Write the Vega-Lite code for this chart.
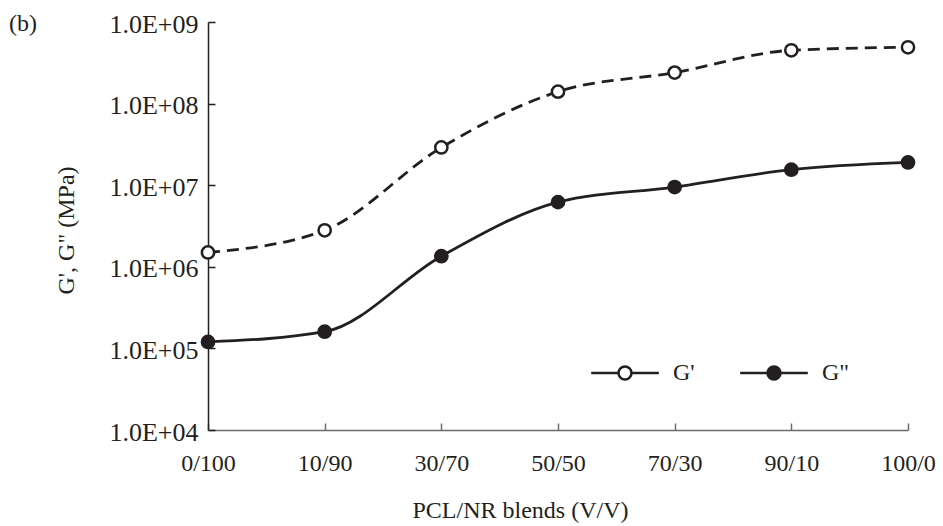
{
  "$schema": "https://vega.github.io/schema/vega-lite/v6.json",
  "width": 700,
  "height": 408,
  "autosize": "none",
  "padding": {"left": 208, "top": 22, "right": 35, "bottom": 96},
  "background": "white",
  "title": {
    "text": "(b)",
    "anchor": "start",
    "frame": "bounds",
    "orient": "top",
    "font": "Liberation Serif",
    "fontSize": 24,
    "fontWeight": "normal",
    "color": "#231f20",
    "baseline": "alphabetic",
    "dx": -45,
    "dy": 44,
    "offset": 0
  },
  "config": {
    "view": {"stroke": null},
    "axis": {
      "labelFont": "Liberation Serif",
      "titleFont": "Liberation Serif",
      "labelFontSize": 24,
      "titleFontSize": 24,
      "titleFontWeight": "normal",
      "labelColor": "#231f20",
      "titleColor": "#231f20",
      "grid": false
    }
  },
  "data": {
    "values": [
      {"blend": "0/100", "series": "G'", "value": 1500000},
      {"blend": "10/90", "series": "G'", "value": 2800000},
      {"blend": "30/70", "series": "G'", "value": 29000000},
      {"blend": "50/50", "series": "G'", "value": 140000000},
      {"blend": "70/30", "series": "G'", "value": 240000000},
      {"blend": "90/10", "series": "G'", "value": 450000000},
      {"blend": "100/0", "series": "G'", "value": 490000000},
      {"blend": "0/100", "series": "G\"", "value": 120000},
      {"blend": "10/90", "series": "G\"", "value": 160000},
      {"blend": "30/70", "series": "G\"", "value": 1350000},
      {"blend": "50/50", "series": "G\"", "value": 6200000},
      {"blend": "70/30", "series": "G\"", "value": 9500000},
      {"blend": "90/10", "series": "G\"", "value": 15500000},
      {"blend": "100/0", "series": "G\"", "value": 19000000}
    ]
  },
  "encoding": {
    "x": {
      "field": "blend",
      "type": "ordinal",
      "scale": {"type": "point", "padding": 0, "domain": ["0/100", "10/90", "30/70", "50/50", "70/30", "90/10", "100/0"]},
      "axis": {
        "title": "PCL/NR blends (V/V)",
        "labelAngle": 0,
        "tickSize": -7,
        "labelPadding": 28,
        "domainColor": "#6d6d6d",
        "tickColor": "#6d6d6d",
        "domainWidth": 1.5,
        "tickWidth": 1.5,
        "titleX": 312,
        "titleY": 87,
        "titleAlign": "center",
        "titleBaseline": "alphabetic"
      }
    },
    "y": {
      "field": "value",
      "type": "quantitative",
      "scale": {"type": "log", "domain": [10000, 1000000000], "nice": false},
      "axis": {
        "title": "G', G\" (MPa)",
        "values": [10000, 100000, 1000000, 10000000, 100000000, 1000000000],
        "labelExpr": "'1.0E+0' + format(log(datum.value)/LN10, '.0f')",
        "labelFontSize": 26,
        "tickSize": -7,
        "labelPadding": 17,
        "labelOffset": 2,
        "domainColor": "#231f20",
        "tickColor": "#231f20",
        "domainWidth": 1.5,
        "tickWidth": 1.5,
        "titleX": -135,
        "titleY": 208,
        "titleAlign": "center",
        "titleBaseline": "alphabetic"
      }
    }
  },
  "layer": [
    {
      "transform": [{"filter": "datum.series === \"G'\""}],
      "mark": {"type": "line", "interpolate": "monotone", "color": "#231f20", "strokeWidth": 2.8, "strokeDash": [12, 7]},
      "encoding": {}
    },
    {
      "transform": [{"filter": "datum.series === 'G\"'"}],
      "mark": {"type": "line", "interpolate": "monotone", "color": "#231f20", "strokeWidth": 2.8},
      "encoding": {}
    },
    {
      "mark": {"type": "point", "filled": true, "stroke": "#231f20", "strokeWidth": 2.5, "size": 150, "opacity": 1},
      "encoding": {
        "fill": {
          "field": "series",
          "type": "nominal",
          "scale": {"domain": ["G'", "G\""], "range": ["white", "#231f20"]},
          "legend": {
            "title": null,
            "orient": "none",
            "legendX": 405,
            "legendY": 339,
            "direction": "horizontal",
            "symbolType": "M-5.2,0L-1.15,0M1.15,0L5.2,0M-1,0A1,1,0,1,1,1,0A1,1,0,1,1,-1,0Z",
            "symbolSize": 169,
            "symbolStrokeWidth": 2.5,
            "symbolStrokeColor": "#231f20",
            "symbolOpacity": 1,
            "labelFont": "Liberation Serif",
            "labelFontSize": 24,
            "labelColor": "#231f20",
            "labelOffset": 36,
            "columnPadding": 40,
            "padding": 0
          }
        }
      }
    }
  ]
}
